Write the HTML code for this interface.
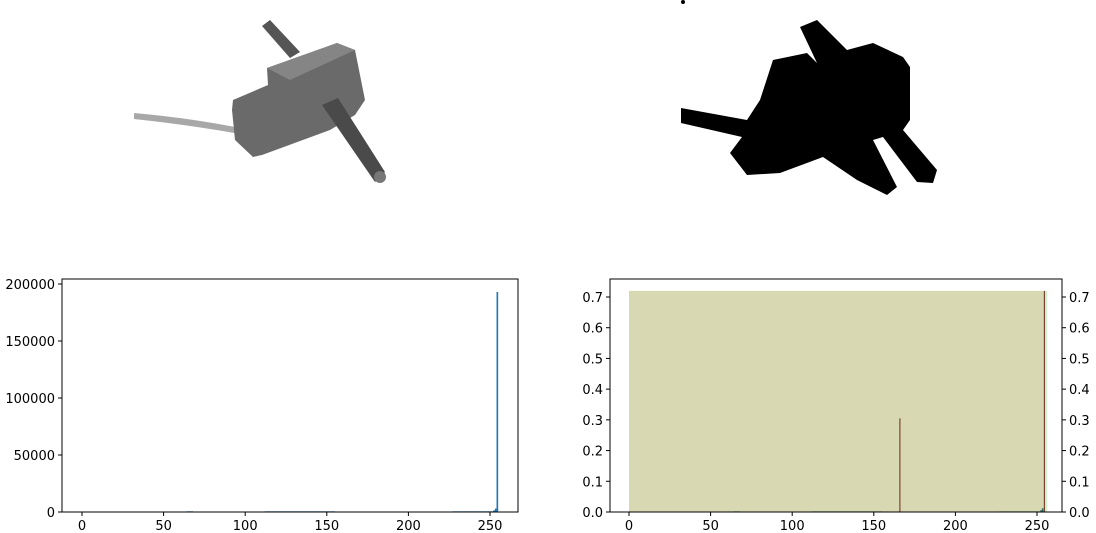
<!DOCTYPE html>
<html><head><meta charset="utf-8"><style>
html,body{margin:0;padding:0;background:#fff;}
svg{display:block;font-family:"DejaVu Sans","Liberation Sans",sans-serif;}
</style></head><body>
<svg id="fig" width="1096" height="533" viewBox="0 0 1096 533" xmlns="http://www.w3.org/2000/svg">
  <g>
    <path d="M134,113 Q190,118 240,128 L240,134 Q190,125 134,119 Z" fill="#a8a8a8"/>
    <path d="M262,26 L270,20 L300,52 L290,58 Z" fill="#555"/>
    <path d="M233,100 L268,85 L267,68 L337,43 L355,50 L365,100 L355,115 L330,130 L262,155 L253,157 L235,140 L232,110 Z" fill="#6a6a6a"/>
    <path d="M267,68 L337,43 L355,50 L290,80 Z" fill="#858585"/>
    <path d="M322,105 L338,98 L385,172 L375,182 Z" fill="#4a4a4a"/>
    <circle cx="380" cy="177" r="6" fill="#777"/>
  </g>
  <g>
    <circle cx="683" cy="2" r="2" fill="#000"/>
    <polygon points="681,108 747,120 760,100 773,60 807,53 817,63 800,27 817,20 847,50 873,43 903,57 910,67 910,120 903,130 937,170 933,183 917,182 883,137 873,140 897,187 887,195 857,180 823,157 780,173 747,175 730,153 742,137 681,123" fill="#000"/>
  </g>
  <g id="left"></g>
  <g id="right"></g>
</svg>
<script>
const histLo = [64, 112, 227, 252, 253, 254];
const histHi = [68, 155, 252, 253, 254, 255];
const histCount = [600, 600, 600, 1500, 3000, 193000];
const leftYTicks = [0, 50000, 100000, 150000, 200000];
const xTicks = [0, 50, 100, 150, 200, 250];

const densLo = [64, 112, 227, 252, 253];
const densHi = [68, 155, 252, 253, 254];
const densVal = [0.002, 0.002, 0.002, 0.006, 0.012];
const areaRange = [0, 255];
const areaHeight = [0.72];
const sliverRange = [255, 256];
const lineX = [166, 254.5];
const lineY = [0.305, 0.72];
const rightYTicks = [0, 0.1, 0.2, 0.3, 0.4, 0.5, 0.6, 0.7];

const NS = "http://www.w3.org/2000/svg";
function mk(p, tag, at){const e=document.createElementNS(NS,tag);for(const k in at)e.setAttribute(k,at[k]);p.appendChild(e);return e;}

// left chart
const L = document.getElementById('left');
const lx = v => 82 + v*(490-82)/250;
const ly = v => 512 - v*(512-284)/200000;
for(let i=0;i<histCount.length;i++){
  const r = mk(L,'rect',{x:lx(histLo[i]),y:ly(histCount[i]),width:Math.max(lx(histHi[i])-lx(histLo[i]),1),height:512-ly(histCount[i]),fill:'#1f77b4'});
  
  
}
const lf = mk(L,'rect',{x:62,y:279,width:456,height:233,fill:'none',stroke:'#000','stroke-width':1});


xTicks.forEach(t=>{
  mk(L,'line',{x1:lx(t),x2:lx(t),y1:512,y2:516,stroke:'#000'});
  const tx = mk(L,'text',{x:lx(t),y:530,'text-anchor':'middle','font-size':13});
  tx.textContent = t;
  
  
});
leftYTicks.forEach(t=>{
  mk(L,'line',{x1:58,x2:62,y1:ly(t),y2:ly(t),stroke:'#000'});
  const tx = mk(L,'text',{x:55,y:ly(t)+5,'text-anchor':'end','font-size':13});
  tx.textContent = t;
  
  
});

// right chart
const R = document.getElementById('right');
const rx = v => 629 + v*(1037-629)/250;
const ry = v => 512 - v*(512-297)/0.7;
const area = mk(R,'rect',{x:rx(areaRange[0]),y:ry(areaHeight[0]),width:rx(areaRange[1])-rx(areaRange[0]),height:512-ry(areaHeight[0]),fill:'#d8d8b2'});


const sl = mk(R,'rect',{x:rx(sliverRange[0]),y:ry(areaHeight[0]),width:rx(sliverRange[1])-rx(sliverRange[0]),height:512-ry(areaHeight[0]),fill:'#bff0bf'});


for(let i=0;i<densVal.length;i++){
  const r = mk(R,'rect',{x:rx(densLo[i]),y:ry(densVal[i]),width:Math.max(rx(densHi[i])-rx(densLo[i]),1),height:512-ry(densVal[i]),fill:'#2f6b6b'});
  
  
}
for(let i=0;i<lineX.length;i++){
  const l = mk(R,'line',{x1:rx(lineX[i]),x2:rx(lineX[i]),y1:512,y2:ry(lineY[i]),stroke:'#6b2a1a','stroke-width':1});
  
  
}
const rf = mk(R,'rect',{x:610,y:279,width:452,height:233,fill:'none',stroke:'#000','stroke-width':1});


xTicks.forEach(t=>{
  mk(R,'line',{x1:rx(t),x2:rx(t),y1:512,y2:516,stroke:'#000'});
  const tx = mk(R,'text',{x:rx(t),y:530,'text-anchor':'middle','font-size':13});
  tx.textContent = t;
  
  
});
rightYTicks.forEach(t=>{
  mk(R,'line',{x1:606,x2:610,y1:ry(t),y2:ry(t),stroke:'#000'});
  const tx = mk(R,'text',{x:603,y:ry(t)+5,'text-anchor':'end','font-size':13});
  tx.textContent = t.toFixed(1);
  
  
  mk(R,'line',{x1:1062,x2:1066,y1:ry(t),y2:ry(t),stroke:'#000'});
  const tx2 = mk(R,'text',{x:1069,y:ry(t)+5,'text-anchor':'start','font-size':13});
  tx2.textContent = t.toFixed(1);
  
  
});
</script>
</body></html>
